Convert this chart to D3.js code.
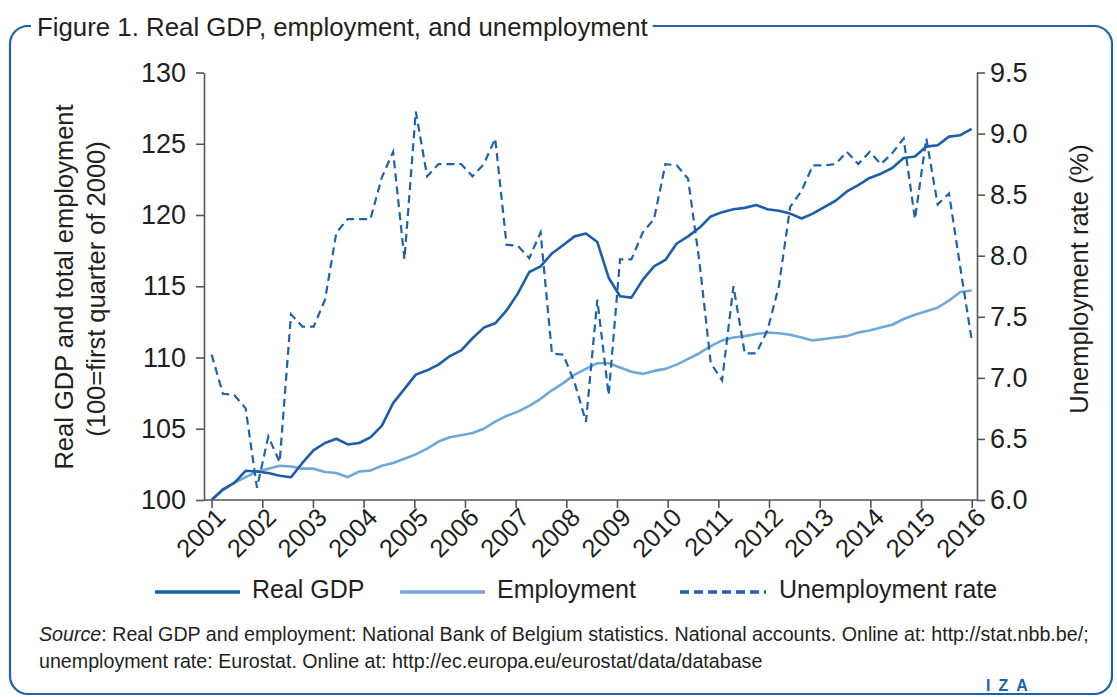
<!DOCTYPE html>
<html><head><meta charset="utf-8">
<script src="https://cdn.jsdelivr.net/npm/d3@7"></script>
<style>
body{margin:0;background:#fff;}
svg text{font-family:"Liberation Sans",Arial,sans-serif;fill:#231f20;}
</style></head><body>
<svg id="c" width="1117" height="697"></svg>
<script>
// ---- data (quarterly, 68 observations drawn across the 2001–2016 axis) ----
const years = [2001,2002,2003,2004,2005,2006,2007,2008,2009,2010,2011,2012,2013,2014,2015,2016];
const gdp = [100.0,100.75,101.2,102.05,102.0,101.9,101.7,101.6,102.6,103.5,
  104.0,104.3,103.9,104.0,104.4,105.2,106.8,107.8,108.8,109.1,
  109.5,110.1,110.5,111.35,112.1,112.4,113.3,114.5,116.0,116.4,
  117.3,117.9,118.5,118.7,118.1,115.6,114.3,114.2,115.45,116.4,
  116.85,118.0,118.5,119.1,119.9,120.2,120.4,120.5,120.7,120.4,
  120.3,120.1,119.75,120.1,120.55,121.0,121.65,122.1,122.6,122.9,
  123.3,124.0,124.1,124.8,124.9,125.5,125.6,126.05];
const employment = [100.0,100.7,101.2,101.6,102.0,102.2,102.4,102.35,102.2,102.2,
  101.97,101.9,101.6,102.0,102.06,102.4,102.6,102.9,103.2,103.6,
  104.1,104.4,104.55,104.7,105.0,105.5,105.9,106.2,106.6,107.1,
  107.7,108.2,108.8,109.2,109.6,109.6,109.3,109.0,108.85,109.06,
  109.2,109.5,109.9,110.3,110.8,111.2,111.4,111.5,111.65,111.75,
  111.7,111.6,111.4,111.2,111.3,111.4,111.5,111.75,111.9,112.1,
  112.3,112.7,113.0,113.25,113.5,114.0,114.6,114.7];
const unemployment = [7.19,6.87,6.86,6.75,6.10,6.52,6.31,7.52,7.42,7.42,
  7.64,8.19,8.30,8.30,8.30,8.64,8.85,7.97,9.18,8.65,
  8.75,8.75,8.75,8.65,8.75,8.96,8.09,8.08,7.98,8.19,
  7.20,7.19,6.96,6.64,7.64,6.86,7.97,7.97,8.19,8.30,
  8.75,8.74,8.63,7.95,7.12,6.98,7.75,7.20,7.20,7.39,
  7.75,8.40,8.53,8.74,8.74,8.75,8.85,8.75,8.85,8.75,
  8.84,8.96,8.30,8.96,8.42,8.51,7.90,7.31];
const leftTicks = [100,105,110,115,120,125,130];
const rightTicks = [6.0,6.5,7.0,7.5,8.0,8.5,9.0,9.5];
const seriesNames = ["Real GDP","Employment","Unemployment rate"];
const titleText = "Figure 1. Real GDP, employment, and unemployment";
const leftTitle = ["Real GDP and total employment","(100=first quarter of 2000)"];
const rightTitle = "Unemployment rate (%)";

// ---- styles ----
const C_GDP = "#1b5ea9", C_EMP = "#6fa7d9", C_UNE = "#1e62ad", C_BORDER = "#1a63ad", C_AX = "#555";
const X0 = 211.6, X1 = 971.7, AXL = 204, AXR = 977, YT = 72.5, YB = 500;

const svg = d3.select("#c");
const x = d3.scaleLinear().domain([0, gdp.length - 1]).range([X0, X1]);
const xYear = d3.scalePoint().domain(years).range([X0, X1]);
const yL = d3.scaleLinear().domain([100, 130]).range([YB, YT]);
const yR = d3.scaleLinear().domain([6, 9.5]).range([YB, YT]);

// border frame
svg.append("rect").attr("x", 10).attr("y", 26).attr("width", 1102).attr("height", 668)
  .attr("rx", 18).attr("fill", "none").attr("stroke", C_BORDER).attr("stroke-width", 2.2);

// title
const tbg = svg.append("rect").attr("fill", "#fff");
const title = svg.append("text").attr("x", 37).attr("y", 36).style("font-size", "26px").text(titleText);
(function fit(){ let fs = 26; const w = title.node().getComputedTextLength(); fs = fs * 611 / w; title.style("font-size", fs + "px"); })();
const tb = title.node().getBBox();
tbg.attr("x", 31).attr("y", 12).attr("width", tb.x + tb.width - 31 + 5).attr("height", 30);

// axes
function styleAxis(g, fs){
  g.selectAll("path.domain").attr("stroke", C_AX).attr("stroke-width", 1.6);
  g.selectAll(".tick line").attr("stroke", C_AX).attr("stroke-width", 1.6);
  g.selectAll(".tick text").style("font-size", fs + "px").style("font-family", '"Liberation Sans",Arial,sans-serif').attr("fill", "#231f20");
}
const gl = svg.append("g").attr("transform", `translate(${AXL},0)`)
  .call(d3.axisLeft(yL).tickValues(leftTicks).tickSize(8).tickPadding(10).tickSizeOuter(0));
styleAxis(gl, 27);
const gr = svg.append("g").attr("transform", `translate(${AXR},0)`)
  .call(d3.axisRight(yR).tickValues(rightTicks).tickFormat(d3.format(".1f")).tickSize(8).tickPadding(5).tickSizeOuter(0));
styleAxis(gr, 27);
const gx = svg.append("g").attr("transform", `translate(0,${YB})`)
  .call(d3.axisBottom(xYear).tickSize(8).tickSizeOuter(0));
gx.select("path.domain").remove();
styleAxis(gx, 25.5);
gx.selectAll(".tick text").attr("text-anchor", "end").attr("dy", null).attr("y", null)
  .attr("transform", "translate(15,19) rotate(-45)");
svg.append("line").attr("x1", AXL).attr("x2", AXR).attr("y1", YB).attr("y2", YB)
  .attr("stroke", C_AX).attr("stroke-width", 1.6);

// axis titles
const lt = svg.append("g");
lt.append("text").attr("transform", "translate(73,287) rotate(-90)").attr("text-anchor", "middle")
  .style("font-size", "25.5px").text(leftTitle[0]);
lt.append("text").attr("transform", "translate(105,289) rotate(-90)").attr("text-anchor", "middle")
  .style("font-size", "25.5px").text(leftTitle[1]);
svg.append("text").attr("transform", "translate(1088,279) rotate(-90)").attr("text-anchor", "middle")
  .style("font-size", "25.5px").text(rightTitle);

// lines
const lineL = d3.line().x((d, i) => x(i)).y(d => yL(d));
const lineR = d3.line().x((d, i) => x(i)).y(d => yR(d));
svg.append("path").datum(employment).attr("d", lineL).attr("fill", "none")
  .attr("stroke", C_EMP).attr("stroke-width", 2.6).attr("stroke-linejoin", "round");
svg.append("path").datum(gdp).attr("d", lineL).attr("fill", "none")
  .attr("stroke", C_GDP).attr("stroke-width", 2.6).attr("stroke-linejoin", "round");
svg.append("path").datum(unemployment).attr("d", lineR).attr("fill", "none")
  .attr("stroke", C_UNE).attr("stroke-width", 2.2).attr("stroke-dasharray", "8,5");

// legend
const legItems = [
  {name: seriesNames[0], color: C_GDP, dash: null, x1: 155, x2: 240, tx: 252},
  {name: seriesNames[1], color: C_EMP, dash: null, x1: 400, x2: 485, tx: 497},
  {name: seriesNames[2], color: C_UNE, dash: "9,5", x1: 680, x2: 766, tx: 779}
];
const leg = svg.append("g").selectAll("g").data(legItems).join("g");
leg.append("line").attr("x1", d => d.x1).attr("x2", d => d.x2).attr("y1", 592).attr("y2", 592)
  .attr("stroke", d => d.color).attr("stroke-width", 3.3).attr("stroke-dasharray", d => d.dash);
leg.append("text").attr("x", d => d.tx).attr("y", 598).style("font-size", "25px").text(d => d.name);

// source
const src = svg.append("text").attr("x", 39).attr("y", 641).style("font-size", "19px");
src.append("tspan").style("font-style", "italic").text("Source");
src.append("tspan").text(": Real GDP and employment: National Bank of Belgium statistics. National accounts. Online at: http://stat.nbb.be/;");
const sw = src.node().getComputedTextLength();
const sfs = 19 * 1050 / sw;
src.style("font-size", sfs + "px");
svg.append("text").attr("x", 39).attr("y", 668).style("font-size", sfs + "px")
  .text("unemployment rate: Eurostat. Online at: http://ec.europa.eu/eurostat/data/database");

// IZA mark
svg.append("text").attr("x", 986).attr("y", 691).style("font-size", "16px").style("font-weight", "bold")
  .style("letter-spacing", "8px").attr("fill", C_BORDER).style("fill", C_BORDER).text("IZA");
</script>
</body></html>
